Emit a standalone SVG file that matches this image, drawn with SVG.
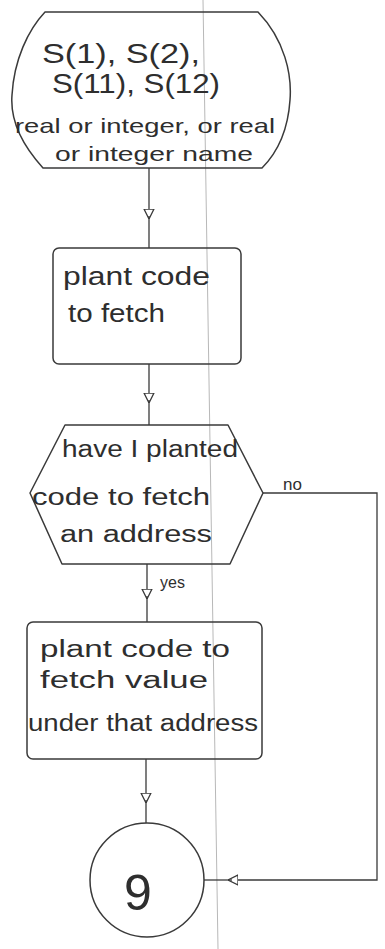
<svg xmlns="http://www.w3.org/2000/svg" width="385" height="949" viewBox="0 0 385 949">
<style>
.shape{fill:none;stroke:#3a3a3a;stroke-width:1.5;stroke-linejoin:round}
.conn{fill:none;stroke:#3a3a3a;stroke-width:1.3}
.t{font-family:"Liberation Sans","DejaVu Sans",sans-serif;fill:#2e2e2e}
.scan{stroke:#b8b8b8;stroke-width:1;fill:none}
</style>
<defs>
<marker id="arr" viewBox="0 0 10 12" refX="10" refY="6" markerWidth="10" markerHeight="12" markerUnits="userSpaceOnUse" orient="auto">
<path d="M0,1 L10,6 L0,11 Z" fill="#fff" stroke="#3a3a3a" stroke-width="1.3"/>
</marker>
</defs>
<rect width="385" height="949" fill="#fff"/>
<line class="scan" x1="203" y1="0" x2="218" y2="949"/>
<g id="connectors">
<path class="conn" d="M149,168 V219" marker-end="url(#arr)"/>
<path class="conn" d="M149,216 V248"/>
<path class="conn" d="M149,364 V403" marker-end="url(#arr)"/>
<path class="conn" d="M149,400 V425"/>
<path class="conn" d="M147,564 V599" marker-end="url(#arr)"/>
<path class="conn" d="M147,596 V622"/>
<path class="conn" d="M146,759 V803" marker-end="url(#arr)"/>
<path class="conn" d="M146,800 V823"/>
<path class="conn" d="M263,493 H377 V880 H228" marker-end="url(#arr)"/>
<path class="conn" d="M232,880 H204"/>
<text class="t" x="283" y="490" font-size="17">no</text>
<text class="t" x="160" y="588" font-size="16">yes</text>
</g>
<g id="start">
<path class="shape" d="M45,12 H258 C285,40 292,75 290,100 C288,130 278,152 262,168 H43 C22,145 10,120 12,95 C14,60 28,30 45,12 Z"/>
<text class="t" x="42" y="63" font-size="28" textLength="158" lengthAdjust="spacingAndGlyphs">S(1), S(2),</text>
<text class="t" x="52" y="93" font-size="28" textLength="168" lengthAdjust="spacingAndGlyphs">S(11), S(12)</text>
<text class="t" x="15" y="133" font-size="21" textLength="260" lengthAdjust="spacingAndGlyphs">real or integer, or real</text>
<text class="t" x="55" y="161" font-size="21" textLength="198" lengthAdjust="spacingAndGlyphs">or integer name</text>
</g>
<g id="fetch">
<rect class="shape" x="53" y="248" width="188" height="116" rx="6"/>
<text class="t" x="63" y="285" font-size="26" textLength="147" lengthAdjust="spacingAndGlyphs">plant code</text>
<text class="t" x="68" y="322" font-size="26" textLength="97" lengthAdjust="spacingAndGlyphs">to fetch</text>
</g>
<g id="decision">
<path class="shape" d="M65,425 H228 L263,493 L230,564 H62 L30,493 Z"/>
<text class="t" x="62" y="457" font-size="23" textLength="176" lengthAdjust="spacingAndGlyphs">have I planted</text>
<text class="t" x="32" y="505" font-size="23" textLength="178" lengthAdjust="spacingAndGlyphs">code to fetch</text>
<text class="t" x="60" y="542" font-size="23" textLength="152" lengthAdjust="spacingAndGlyphs">an address</text>
</g>
<g id="fetchvalue">
<rect class="shape" x="27" y="622" width="235" height="137" rx="6"/>
<text class="t" x="40" y="657" font-size="23" textLength="190" lengthAdjust="spacingAndGlyphs">plant code to</text>
<text class="t" x="40" y="688" font-size="23" textLength="168" lengthAdjust="spacingAndGlyphs">fetch value</text>
<text class="t" x="28" y="731" font-size="23" textLength="230" lengthAdjust="spacingAndGlyphs">under that address</text>
</g>
<g id="connector9">
<circle class="shape" cx="147" cy="880" r="57"/>
<text class="t" x="138" y="910" font-size="50" text-anchor="middle">9</text>
</g>
</svg>
